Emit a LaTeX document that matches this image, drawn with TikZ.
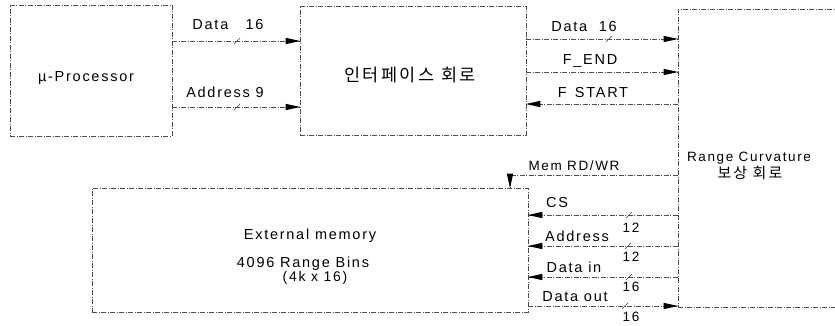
\documentclass[tikz,border=0pt]{standalone}
\usepackage{fontspec}
\setmainfont{Liberation Sans}[LetterSpace=12]
\newfontfamily\kr{Noto Sans CJK KR}[LetterSpace=14]
\usetikzlibrary{decorations.markings}
\begin{document}
\begin{tikzpicture}[x=1pt,y=-1pt,
  ln/.style={draw=black!70, line width=0.7pt, dash pattern=on 5pt off 1.5pt on 1pt off 1.5pt},
  blk/.style={ln, rectangle, inner sep=0pt},
  arr/.style={ln, postaction={decorate, decoration={markings,
      mark=at position 1 with {\fill[black] (0.5pt,0pt) -- (-14pt,3.2pt) -- (-14pt,-3.2pt) -- cycle;}}}},
  lbl/.style={font=\fontsize{14.5}{16}\selectfont, inner sep=0pt},
  small/.style={font=\fontsize{13.5}{15}\selectfont, inner sep=0pt},
  slash/.style={draw=black!75, line width=0.5pt}]
\useasboundingbox (0,0) rectangle (835,326);
% blocks
\node[blk, minimum width=162pt, minimum height=131pt] (cpu) at (91,70.5) {};
\node[blk, minimum width=226pt, minimum height=129pt] (ifc) at (413,70.5) {};
\node[blk, minimum width=180pt, minimum height=298pt] (rc) at (768,158) {};
\node[blk, minimum width=436pt, minimum height=124pt] (mem) at (310,250) {};
% block texts
\node[lbl] (cput) at (86,78) {µ-Processor};
\node[font=\kr\fontsize{17.5}{19}\selectfont, inner sep=0pt] (ifct) at (410,75) {인터페이스 회로};
\node[small] (rct1) at (749,158) {Range Curvature};
\node[font=\kr\fontsize{15}{17}\selectfont, inner sep=0pt] (rct2) at (750,173) {보상 회로};
\node[lbl] (memt1) at (310,236) {External memory};
\node[lbl] (memt2) at (303,264) {4096 Range Bins};
\node[font=\fontsize{14}{15}\selectfont, inner sep=0pt] (memt3) at (315,278) {(4k x 16)};
% coordinates on block edges
\coordinate (a1) at (cpu.east |- 0,41);
\coordinate (a2) at (ifc.west |- 0,41);
\coordinate (b1) at (cpu.east |- 0,107);
\coordinate (b2) at (ifc.west |- 0,107);
\coordinate (c1) at (ifc.east |- 0,39);
\coordinate (c2) at (rc.west |- 0,39);
\coordinate (d1) at (ifc.east |- 0,72);
\coordinate (d2) at (rc.west |- 0,72);
\coordinate (e1) at (rc.west |- 0,104);
\coordinate (e2) at (ifc.east |- 0,104);
\coordinate (m1) at (rc.west |- 0,175);
\coordinate (m2) at (510,175);
\coordinate (m3) at (mem.north -| m2);
\coordinate (f1) at (rc.west |- 0,215);
\coordinate (f2) at (mem.east |- 0,215);
\coordinate (g1) at (rc.west |- 0,246);
\coordinate (g2) at (mem.east |- 0,246);
\coordinate (h1) at (rc.west |- 0,277);
\coordinate (h2) at (mem.east |- 0,277);
\coordinate (k1) at (mem.east |- 0,306);
\coordinate (k2) at (rc.west |- 0,306);
% connectors
\draw[arr] (a1) -- (a2);
\draw[arr] (b1) -- (b2);
\draw[arr] (c1) -- (c2);
\draw[arr] (d1) -- (d2);
\draw[arr] (e1) -- (e2);
\draw[arr] (m1) -- (m2) -- (m3);
\draw[arr] (f1) -- (f2);
\draw[arr] (g1) -- (g2);
\draw[arr] (h1) -- (h2);
\draw[arr] (k1) -- (k2);
% bus slashes
\foreach \x/\y in {237/41, 237/107, 609/39, 629/215, 628/246, 629/277, 625/306}
  \draw[slash] (\x-3,\y+3) -- (\x+3,\y-3);
% connector labels
\node[lbl] (la) at (228,25) {Data\ \ \ 16};
\node[lbl] (lb) at (225,92) {Address 9};
\node[lbl] (lc) at (584,27) {Data\ \ 16};
\node[lbl] (ld) at (590,61) {F\_END};
\node[lbl] (le) at (593,93) {F\ \,START};
\node[small] (lm) at (574,166) {Mem RD/WR};
\node[lbl] (lf) at (557,203) {CS};
\node[lbl] (lg) at (577,236) {Address};
\node[small] (lg2) at (631,228) {12};
\node[lbl] (lh) at (574,267) {Data in};
\node[small] (lh2) at (631,257) {12};
\node[lbl] (lk) at (575,297) {Data out};
\node[small] (lk2) at (631,287) {16};
\node[small] (lk3) at (631,317) {16};
\end{tikzpicture}
\end{document}
